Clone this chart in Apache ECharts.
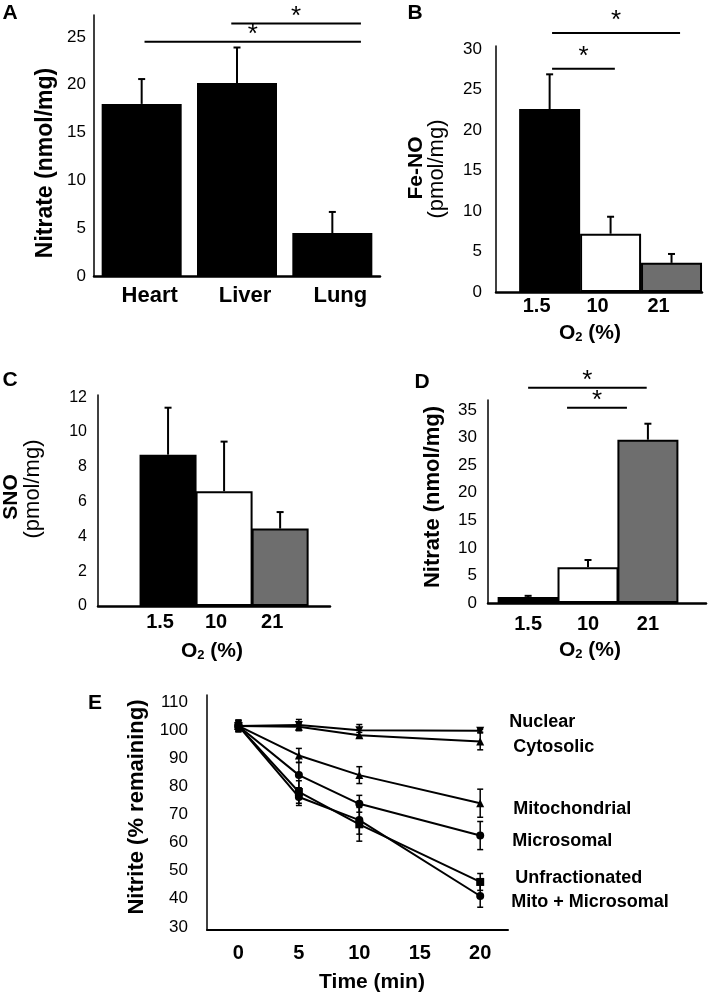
<!DOCTYPE html>
<html><head><meta charset="utf-8">
<script src="https://cdn.jsdelivr.net/npm/echarts@6/dist/echarts.min.js"></script>
<style>html,body{margin:0;padding:0;background:#fff}#c{width:708px;height:996px}</style>
</head><body><div id="c"></div>
<script>
// ---- data ----
const catA = ['Heart', 'Liver', 'Lung'];
const valA = [18.0, 20.2, 4.5];
const errA = [2.6, 3.7, 2.2];
const ticksA = [0, 5, 10, 15, 20, 25];

const catO2 = ['1.5', '10', '21'];
const valB = [22.6, 7.2, 3.6];
const errB = [4.3, 2.1, 1.1];
const ticksB = [0, 5, 10, 15, 20, 25, 30];

const valC = [8.7, 6.6, 4.45];
const errC = [2.7, 2.85, 0.95];
const ticksC = [0, 2, 4, 6, 8, 10, 12];

const valD = [1.1, 6.5, 29.6];
const errD = [0.2, 1.3, 2.9];
const ticksD = [0, 5, 10, 15, 20, 25, 30, 35];

const timeE = [0, 5, 10, 20];
const ticksEx = [0, 5, 10, 15, 20];
const ticksEy = [30, 40, 50, 60, 70, 80, 90, 100, 110];
const namesE = ['Nuclear', 'Cytosolic', 'Mitochondrial', 'Microsomal', 'Unfractionated', 'Mito + Microsomal'];
const nuclear = [101.5, 101.8, 100.0, 99.8];
const cytosolic = [101.5, 101.2, 98.2, 96.0];
const mitochondrial = [101.5, 91.0, 84.0, 74.0];
const microsomal = [101.5, 84.0, 73.8, 62.5];
const unfractionated = [101.5, 78.0, 66.5, 46.0];
const mitoMicro = [101.5, 76.2, 68.0, 41.0];
const errNuclear = [1.5, 2, 2, 0.5];
const errCytosolic = [1.5, 1, 1, 3];
const errMito = [2, 2.5, 3, 5];
const errMicro = [2, 4.5, 3, 5];
const errUnfrac = [2, 4, 6, 3];
const errMitoMicro = [2, 3, 5, 4];

// significance brackets: [fromIndex, toIndex, level]
const sigA = [[0.03, 2.3, 24.5], [0.94, 2.3, 26.4]];
const sigB = [[0.04, 2.14, 32.0], [0.04, 1.07, 27.6]];
const sigD = [[0.0, 1.98, 39.0], [0.65, 1.65, 35.4]];

// ---- styles ----
const FONT = 'Liberation Sans, Arial, sans-serif';
const barColors = ['#000000', '#ffffff', '#6e6e6e'];

function xAxisBar(gi, min, max, cats, fs, margin, pad) {
  return {
    gridIndex: gi, type: 'value', min: min, max: max,
    axisLine: { show: true, onZero: false, lineStyle: { color: '#000', width: 2.5 } },
    axisTick: { show: false }, splitLine: { show: false },
    axisLabel: {
      customValues: [0, 1, 2], formatter: v => cats[Math.round(v)],
      fontSize: fs, fontWeight: 'bold', color: '#000', fontFamily: FONT, margin: margin,
      padding: pad || 0
    }
  };
}
function yAxisVal(gi, min, max, ticks, fs, margin) {
  return {
    gridIndex: gi, type: 'value', min: min, max: max,
    axisLine: { show: true, onZero: false, lineStyle: { color: '#000', width: 1.5 } },
    axisTick: { show: false }, splitLine: { show: false },
    axisLabel: { customValues: ticks, fontSize: fs, color: '#000', fontFamily: FONT, margin: margin }
  };
}
function barSeries(gi, vals, colors) {
  return {
    type: 'bar', xAxisIndex: gi, yAxisIndex: gi, barWidth: gi === 0 ? 80 : (gi === 2 ? 57 : 61),
    data: vals.map((v, i) => ({ value: [i, v], itemStyle: { color: colors[i], borderColor: '#000', borderWidth: 2 } })),
    silent: true
  };
}
function errSeries(gi, vals, errs, both) {
  return {
    type: 'custom', xAxisIndex: gi, yAxisIndex: gi, silent: true, z: 1,
    data: vals.map((v, i) => [i, v, errs[i]]),
    renderItem: function (params, api) {
      const x = api.value(0), y = api.value(1), e = api.value(2);
      const top = api.coord([x, y + e]);
      const bot = api.coord([x, both ? y - e : y]);
      const cap = 3.5;
      const children = [
        { type: 'line', shape: { x1: top[0], y1: top[1], x2: bot[0], y2: bot[1] }, style: { stroke: '#000', lineWidth: 2 } },
        { type: 'line', shape: { x1: top[0] - cap, y1: top[1], x2: top[0] + cap, y2: top[1] }, style: { stroke: '#000', lineWidth: 2 } }
      ];
      if (both) children.push({ type: 'line', shape: { x1: bot[0] - cap, y1: bot[1], x2: bot[0] + cap, y2: bot[1] }, style: { stroke: '#000', lineWidth: 2 } });
      return { type: 'group', children: children };
    }
  };
}
function sigSeries(gi, sig, gap) {
  return {
    type: 'custom', xAxisIndex: gi, yAxisIndex: gi, silent: true, clip: false,
    data: sig,
    renderItem: function (params, api) {
      const a = api.coord([api.value(0), api.value(2)]);
      const b = api.coord([api.value(1), api.value(2)]);
      return {
        type: 'group', children: [
          { type: 'line', shape: { x1: a[0], y1: a[1], x2: b[0], y2: a[1] }, style: { stroke: '#000', lineWidth: 2 } },
          { type: 'text', style: { x: (a[0] + b[0]) / 2, y: a[1] - gap + 6, text: '*', fill: '#000', font: '26px ' + FONT, align: 'center', verticalAlign: 'middle' } }
        ]
      };
    }
  };
}

const seriesE = [nuclear, cytosolic, mitochondrial, microsomal, unfractionated, mitoMicro];
const errsE = [errNuclear, errCytosolic, errMito, errMicro, errUnfrac, errMitoMicro];
const symE = ['triangle', 'triangle', 'triangle', 'circle', 'rect', 'circle'];
const rotE = [180, 0, 0, 0, 0, 0];
const lblOff = [[29, -9], [33, 6], [33, 6], [32, 5], [35, -4], [31, 6]];

const lineSeries = seriesE.map((vals, k) => ({
  type: 'line', name: namesE[k], xAxisIndex: 4, yAxisIndex: 4,
  data: vals.map((v, i) => [timeE[i], v]),
  symbol: symE[k], symbolRotate: rotE[k], symbolSize: 8,
  itemStyle: { color: '#000' }, lineStyle: { color: '#000', width: 2 },
  endLabel: { show: true, formatter: namesE[k], distance: 0, offset: lblOff[k], fontSize: 18, fontWeight: 'bold', color: '#000', fontFamily: FONT, align: 'left' },
  silent: true, z: 3
}));
const errSeriesE = seriesE.map((vals, k) => ({
  type: 'custom', xAxisIndex: 4, yAxisIndex: 4, silent: true, z: 2,
  data: vals.map((v, i) => [timeE[i], v, errsE[k][i]]),
  renderItem: function (params, api) {
    const x = api.value(0), y = api.value(1), e = api.value(2);
    const t = api.coord([x, y + e]), b = api.coord([x, y - e]);
    const cap = 3;
    return {
      type: 'group', children: [
        { type: 'line', shape: { x1: t[0], y1: t[1], x2: b[0], y2: b[1] }, style: { stroke: '#000', lineWidth: 1.5 } },
        { type: 'line', shape: { x1: t[0] - cap, y1: t[1], x2: t[0] + cap, y2: t[1] }, style: { stroke: '#000', lineWidth: 1.5 } },
        { type: 'line', shape: { x1: b[0] - cap, y1: b[1], x2: b[0] + cap, y2: b[1] }, style: { stroke: '#000', lineWidth: 1.5 } }
      ]
    };
  }
}));

function txt(x, y, text, font, rot) {
  return { type: 'text', x: x, y: y, rotation: rot || 0, silent: true,
    style: { text: text, font: font, fill: '#000', align: 'center', verticalAlign: 'middle' } };
}
function o2(x, y) {
  return { type: 'text', x: x, y: y, silent: true,
    style: { text: '{b|O}{s|2}{b| (%)}', align: 'center', verticalAlign: 'middle', fill: '#000',
      rich: { b: { fontSize: 21, fontWeight: 'bold', fontFamily: FONT, fill: '#000' },
              s: { fontSize: 13, fontWeight: 'bold', fontFamily: FONT, fill: '#000', verticalAlign: 'bottom', padding: [8, 0, 0, 0] } } } };
}
const R = Math.PI / 2;

const option = {
  animation: false,
  backgroundColor: '#fff',
  grid: [
    { left: 94, top: 15, width: 286, height: 261 },
    { left: 496, top: 46, width: 206, height: 246 },
    { left: 98, top: 395, width: 232, height: 211 },
    { left: 488, top: 400, width: 218, height: 203 },
    { left: 207, top: 695, width: 301, height: 235 }
  ],
  xAxis: [
    xAxisBar(0, -0.5, 2.5, catA, 22, 9, [0, 0, 0, 16]),
    xAxisBar(1, -0.88, 2.5, catO2, 20, 4, [0, 26, 0, 0]),
    xAxisBar(2, -1.25, 2.89, catO2, 20, 6, [0, 16, 0, 0]),
    xAxisBar(3, -0.67, 2.97, catO2, 20, 11),
    {
      gridIndex: 4, type: 'value', min: -2.6, max: 22.3,
      axisLine: { show: true, onZero: false, lineStyle: { color: '#000', width: 2 } },
      axisTick: { show: false }, splitLine: { show: false },
      axisLabel: { customValues: ticksEx, fontSize: 20, fontWeight: 'bold', color: '#000', fontFamily: FONT, margin: 13 }
    }
  ],
  yAxis: [
    yAxisVal(0, 0, 27.3, ticksA, 17, 8),
    yAxisVal(1, 0, 30.4, ticksB, 17, 14),
    yAxisVal(2, 0, 12.13, ticksC, 16, 11),
    yAxisVal(3, 0, 36.8, ticksD, 17, 11),
    yAxisVal(4, 28.9, 112.5, ticksEy, 17, 19)
  ],
  series: [
    barSeries(0, valA, ['#000', '#000', '#000']), errSeries(0, valA, errA), sigSeries(0, sigA, 13),
    barSeries(1, valB, barColors), errSeries(1, valB, errB), sigSeries(1, sigB, 18),
    barSeries(2, valC, barColors), errSeries(2, valC, errC),
    barSeries(3, valD, barColors), errSeries(3, valD, errD), sigSeries(3, sigD, 13)
  ].concat(lineSeries, errSeriesE),
  graphic: [
    txt(10, 13, 'A', 'bold 21px ' + FONT),
    txt(415, 13, 'B', 'bold 21px ' + FONT),
    txt(10, 380, 'C', 'bold 21px ' + FONT),
    txt(422, 382, 'D', 'bold 21px ' + FONT),
    txt(95, 703, 'E', 'bold 21px ' + FONT),
    txt(46, 163, 'Nitrate (nmol/mg)', 'bold 23px ' + FONT, R),
    txt(416, 168, 'Fe-NO', 'bold 21px ' + FONT, R),
    txt(437, 169, '(pmol/mg)', '22px ' + FONT, R),
    o2(590, 333),
    txt(11, 497, 'SNO', 'bold 21px ' + FONT, R),
    txt(33, 489, '(pmol/mg)', '22px ' + FONT, R),
    o2(212, 651),
    txt(433, 497, 'Nitrate (nmol/mg)', 'bold 22px ' + FONT, R),
    o2(590, 650),
    txt(137, 807, 'Nitrite (% remaining)', 'bold 22px ' + FONT, R),
    txt(372, 982, 'Time (min)', 'bold 21px ' + FONT)
  ]
};
const chart = echarts.init(document.getElementById('c'), null, { renderer: 'canvas' });
chart.setOption(option);
</script>
</body></html>
